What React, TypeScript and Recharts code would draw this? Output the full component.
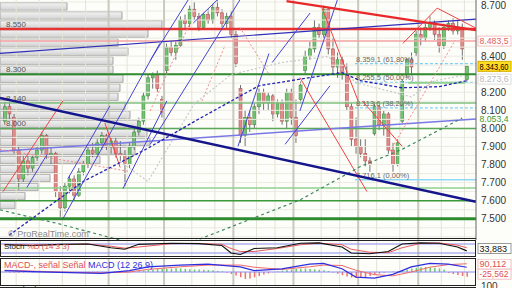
import React from 'react'
import {
  ComposedChart,
  Bar,
  Line,
  XAxis,
  YAxis,
  ReferenceLine,
  ReferenceArea,
  Cell,
} from 'recharts'

// daily candles, oldest first (index = trading day)
const opens = [
  8040, 8120, 8060, 7880, 7720, 7820, 7780, 7840, 7880, 7960,
  7850, 7860, 7650, 7560, 7680, 7720, 7630, 7760, 7800, 7880,
  7860, 7920, 7960, 7900, 7930, 7860, 7850, 7800, 7900, 7980,
  8040, 8180, 8280, 8300, 8160, 8320, 8450, 8420, 8460, 8600,
  8580, 8660, 8620, 8560, 8630, 8600, 8670, 8640, 8580, 8620,
  8520, 8220, 7960, 8060, 8020, 8120, 8200, 8140, 8180, 8080,
  8140, 8040, 8200, 8060, 8160, 8320, 8400, 8440, 8560, 8520,
  8660, 8440, 8340, 8380, 8300, 8120, 7940, 7900, 7860, 7820,
  7970, 8120, 8020, 8080, 7880, 7800, 8040, 8300, 8380, 8420,
  8520, 8500, 8560, 8580, 8520, 8460, 8560, 8580, 8540, 8560,
  8270,
]
const highs = [
  8150, 8160, 8080, 7900, 7850, 7860, 7850, 7900, 7980, 7970,
  7900, 7870, 7680, 7700, 7740, 7740, 7780, 7820, 7900, 7920,
  7940, 7980, 7970, 7950, 7950, 7930, 7880, 7920, 8000, 8060,
  8200, 8300, 8310, 8320, 8180, 8470, 8480, 8480, 8620, 8630,
  8680, 8700, 8640, 8640, 8660, 8690, 8710, 8660, 8640, 8650,
  8540, 8240, 8100, 8100, 8140, 8220, 8220, 8200, 8190, 8160,
  8160, 8220, 8220, 8160, 8260, 8430, 8480, 8600, 8580, 8680,
  8670, 8500, 8420, 8400, 8360, 8140, 8060, 7940, 7940, 7840,
  8150, 8130, 8100, 8090, 7920, 7940, 8270, 8390, 8420, 8540,
  8560, 8580, 8620, 8600, 8560, 8580, 8600, 8610, 8600, 8580,
  8350,
]
const lows = [
  8020, 8050, 7860, 7660, 7700, 7740, 7760, 7820, 7860, 7830,
  7800, 7620, 7510, 7540, 7640, 7600, 7620, 7740, 7780, 7840,
  7840, 7880, 7880, 7860, 7840, 7820, 7680, 7780, 7880, 7960,
  8020, 8160, 8220, 8200, 8060, 8300, 8400, 8380, 8450, 8550,
  8560, 8600, 8540, 8550, 8580, 8580, 8620, 8560, 8550, 8500,
  8340, 7920, 7900, 7980, 8000, 8080, 8100, 8100, 8040, 8060,
  8020, 8000, 8020, 7920, 8140, 8300, 8380, 8420, 8500, 8500,
  8410, 8300, 8280, 8270, 8100, 7900, 7860, 7840, 7790, 7760,
  7960, 7990, 7960, 7860, 7760, 7790, 8030, 8280, 8300, 8400,
  8460, 8480, 8540, 8490, 8420, 8440, 8540, 8520, 8520, 8380,
  8260,
]
const closes = [
  8120, 8080, 7880, 7720, 7820, 7780, 7840, 7880, 7960, 7850,
  7860, 7650, 7560, 7680, 7720, 7630, 7760, 7800, 7880, 7860,
  7920, 7960, 7900, 7930, 7860, 7850, 7800, 7900, 7980, 8040,
  8180, 8280, 8300, 8220, 8090, 8450, 8420, 8460, 8600, 8580,
  8660, 8620, 8560, 8630, 8600, 8670, 8640, 8580, 8620, 8520,
  8360, 7960, 8060, 8020, 8120, 8200, 8140, 8180, 8080, 8140,
  8040, 8200, 8060, 7960, 8240, 8400, 8440, 8560, 8520, 8660,
  8440, 8340, 8380, 8300, 8120, 7940, 7900, 7860, 7820, 7800,
  8120, 8020, 8080, 7880, 7800, 7920, 8260, 8380, 8340, 8520,
  8500, 8560, 8580, 8520, 8460, 8560, 8580, 8540, 8560, 8440,
  8343.6,
]

// volume-by-price profile: bin bottom (bins of 50) and relative volume
const profileBins = [
  8650, 8600, 8550, 8500, 8450, 8400, 8350, 8300, 8250, 8200, 8150, 8100,
  8050, 8000, 7950, 7900, 7850, 7800, 7750, 7700, 7650, 7600, 7550,
]
const profileVol = [
  67, 122, 162, 148, 118, 128, 113, 113, 123, 120, 118, 125,
  130, 138, 147, 150, 135, 100, 55, 50, 38, 25, 15,
]

const priceTicks = [7400, 7500, 7600, 7700, 7800, 7900, 8000, 8100, 8200, 8400, 8600, 8700]
const gridPrices = [
  7400, 7450, 7500, 7550, 7600, 7650, 7700, 7750, 7800, 7850, 7900, 7950, 8000,
  8050, 8100, 8150, 8200, 8250, 8300, 8350, 8400, 8450, 8500, 8550, 8600, 8650, 8700,
]
const weekBreaks = [2.5, 7.5, 12.5, 17.5, 26.5, 30.5, 40.5, 45.5, 54.5, 58.5, 68.5, 72.5, 80.5, 85.5, 94.5, 99.5]
const monthBreaks = [22.5, 34.5, 49.5, 62.5, 76.5, 89.5]

// horizontal support / resistance levels
const redLevel = 8550
const pinkLevel = 8483.5
const greenLevels = [8300, 8140, 8000, 7670, 7600, 7500]
const levelLabels = [
  { y: 8550, text: '8.550' },
  { y: 8300, text: '8.300' },
  { y: 8140, text: '8.140' },
  { y: 8000, text: '8.000' },
]
const fibLevels = [
  { y: 8359.1, text: '8.359,1 (61,80%)' },
  { y: 8255.5, text: '8.255,5 (50,00%)' },
  { y: 8113.6, text: '8.113,6 (38,20%)' },
]
const fibBase = { y: 7716.1, text: '7.716,1 (0,00%)' }
const fibStart = 75.8

// trend lines: [x1, y1, x2, y2] in (day index, price)
const navyLine = [-1, 8169, 102, 7594]
const blueUpper = [-1, 8415, 102, 8605]
const blueLower = [-1, 7873, 102, 8052]
const redTrend = [61, 8705, 102, 8544]
const greenShort = [87.3, 8253, 99.6, 8253]
const blueChannels = [
  [12.6, 7499, 33.6, 8471],
  [4.8, 7672, 9.2, 7856],
  [13.7, 7722, 22.8, 8125],
  [25.6, 7666, 35.1, 8152],
  [31.5, 7912, 50.9, 8711],
  [31.5, 8376, 39.7, 8711],
  [40.8, 8583, 46, 8711],
  [50.5, 7901, 57.2, 8415],
  [57.9, 8365, 66.1, 8639],
  [60.7, 7912, 70.4, 8236],
  [63.9, 8097, 72, 8711],
]
const redThin = [
  [-0.35, 7650, 12.6, 8152],
  [68.7, 8666, 76.5, 8152],
  [77.4, 8152, 86, 7901],
  [63.9, 8281, 78.4, 7650],
  [86.2, 8471, 93.6, 8666],
  [93.6, 8666, 102, 8555],
  [21.7, 8030, 25, 7784],
]
const redDotted = [
  [-1, 7884, 27.1, 7761],
  [31.5, 8097, 40.1, 8583],
  [42.7, 8152, 47.7, 8460],
  [50.9, 8560, 57.4, 8292],
  [83.4, 7873, 97.5, 8488],
]

// moving averages (sampled)
const maBlueIdx = [1, 17, 31, 42, 55, 66, 73, 77, 86, 94, 100]
const maBlue = [7409, 7706, 7890, 8052, 8236, 8281, 8309, 8264, 8225, 8231, 8264]
const maGreenLeftIdx = [-1, 12, 25]
const maGreenLeft = [7549, 7470, 7381]
const maGreenRightIdx = [41, 64, 77, 86, 99]
const maGreenRight = [7375, 7605, 7789, 7884, 8057]
const maGreyIdx = [25, 31, 41, 49, 60, 70, 76, 88, 93, 99]
const maGrey = [7817, 7706, 8135, 8298, 8365, 8398, 8253, 8175, 8264, 8292]

// stochastic
const stochIdx = [0, 6, 12, 18, 23, 26, 29, 36, 42, 47, 49, 51, 54, 59, 64, 68, 73, 75, 79, 83, 86, 90, 94, 98, 100]
const stochK = [75, 70, 78, 80, 55, 45, 78, 85, 82, 70, 20, 10, 50, 55, 85, 88, 60, 20, 15, 30, 80, 88, 85, 60, 34]
const stochD = [78, 72, 75, 80, 65, 52, 60, 82, 84, 78, 50, 30, 30, 50, 75, 86, 75, 45, 25, 22, 55, 84, 87, 72, 55]

// MACD
const macdIdx = [0, 6, 12, 21, 27, 31, 38, 44, 51, 54, 60, 66, 69, 73, 76, 80, 84, 88, 92, 96, 100]
const macdLine = [16, 5, -5, -16, 16, 59, 80, 90, 59, 16, 37, 90, 100, 37, -59, -70, -27, 59, 100, 90, 55]
const signalLine = [20, 10, 0, -10, 0, 30, 60, 80, 80, 55, 30, 60, 80, 75, 20, -30, -45, 0, 55, 85, 95]
const macdHist = [
  -4, -6, -8, -8, -6, -4, -3, -2, 0, 2, 0, -3,
  -6, -8, -6, -4, -2, 0, 2, 3, 4, 3, 2, 0, -2, -3, -2, 0,
  6, 10, 16, 22, 28, 34, 36, 38, 40, 42, 40, 36, 32, 30, 28, 26, 24, 20, 14, 8,
  -10, -24, -40, -60, -80, -76, -62, -46, -30, -16, -4,
  8, 16, 24, 30, 34, 38, 40, 36, 32, 26, 20, 12,
  -6, -20, -36, -52, -64, -70, -66, -58, -46, -32,
  -18, -8, 0, 6, 12, 20,
  30, 40, 48, 54, 58, 56, 50, 42, 30,
  -10, -24, -36, -46, -54,
]

const FONT = '"Liberation Sans", Arial, sans-serif'
const X_DOMAIN: [number, number] = [-1, 102]
const P_DOMAIN: [number, number] = [7382, 8711]

function fmt(v: number, decimals = 0) {
  const [int, dec] = v.toFixed(decimals).split('.')
  const grouped = int.replace(/\B(?=(\d{3})+(?!\d))/g, '.')
  return dec ? `${grouped},${dec}` : grouped
}

const candles = closes.map((c, k) => ({
  i: k,
  open: opens[k],
  high: highs[k],
  low: lows[k],
  close: c,
  range: [lows[k], highs[k]],
}))

const series = (idx: number[], vals: number[]) => idx.map((i, k) => ({ i, v: vals[k] }))

function Candle(props: any) {
  const { x, y, width, height, payload } = props
  if (x == null || payload == null) return null
  const top = Math.min(y, y + height)
  const bot = Math.max(y, y + height)
  const { open, close, high, low } = payload
  const toPx = (v: number) => top + ((high - v) / (high - low)) * (bot - top)
  const cx = x + width / 2
  const up = close >= open
  const yo = toPx(open)
  const yc = toPx(close)
  return (
    <g>
      <line x1={cx} x2={cx} y1={top} y2={bot} stroke="#707070" strokeWidth={1} />
      <rect
        x={cx - 1.5}
        y={Math.min(yo, yc)}
        width={3}
        height={Math.max(1, Math.abs(yc - yo))}
        fill={up ? '#74c374' : '#e38a8a'}
        stroke={up ? '#3f8f3f' : '#b05858'}
        strokeWidth={0.6}
      />
    </g>
  )
}

// price tag drawn just right of the plot area
const boxLabel = (text: string, color: string, bg: string, border: string, size = 9) => (p: any) => {
  const vb = p.viewBox
  const x = vb.x + vb.width + 2
  const long = text.length > 6
  return (
    <g>
      <rect x={x} y={vb.y - 5} width={33} height={10} fill={bg} stroke={border} strokeWidth={1} />
      <text
        x={x + 1.5}
        y={vb.y + 3.2}
        fontSize={size}
        fill={color}
        fontFamily={FONT}
        textLength={long ? 29 : undefined}
        lengthAdjust="spacingAndGlyphs"
      >
        {text}
      </text>
    </g>
  )
}

const leftLabel = (text: string) => (p: any) => (
  <text x={p.viewBox.x + 6} y={p.viewBox.y - 2} fontSize={8} fill="#555" fontFamily={FONT}>
    {text}
  </text>
)

const fibLabel = (text: string) => (p: any) => (
  <text x={p.viewBox.x + 1} y={p.viewBox.y - 2} fontSize={7.5} fill="#666" fontFamily={FONT}>
    {text}
  </text>
)

function seg(s: number[], stroke: string, width: number, dash?: string, key?: string) {
  return (
    <ReferenceLine
      key={key}
      segment={[
        { x: s[0], y: s[1] },
        { x: s[2], y: s[3] },
      ]}
      stroke={stroke}
      strokeWidth={width}
      strokeDasharray={dash}
      ifOverflow="hidden"
    />
  )
}

function MainChart() {
  const last = closes[closes.length - 1]
  return (
    <ComposedChart width={512} height={240} data={candles} margin={{ top: 0, right: 0, bottom: 0, left: 0 }}>
      <defs>
        <linearGradient id="prof" x1="0" y1="0" x2="0" y2="1">
          <stop offset="0%" stopColor="#f4f4f4" />
          <stop offset="100%" stopColor="#d2d2d2" />
        </linearGradient>
      </defs>
      <XAxis type="number" dataKey="i" domain={X_DOMAIN} hide allowDataOverflow />
      <YAxis
        orientation="right"
        width={36}
        domain={P_DOMAIN}
        ticks={priceTicks}
        allowDataOverflow
        tickFormatter={(v) => fmt(v)}
        tick={{ fontSize: 10, fill: '#333', fontFamily: FONT }}
        tickLine={false}
        tickSize={3}
        axisLine={{ stroke: '#666' }}
      />
      {gridPrices.map((p) => (
        <ReferenceLine key={`gp${p}`} y={p} stroke="#ebebe2" strokeWidth={1} />
      ))}
      {weekBreaks.map((w) => (
        <ReferenceLine key={`wk${w}`} x={w} stroke="#e4e4d8" strokeWidth={1} />
      ))}
      {monthBreaks.map((m) => (
        <ReferenceLine key={`mo${m}`} x={m} stroke="#c9c9bd" strokeWidth={2} />
      ))}
      {profileBins.map((b, k) => (
        <ReferenceArea
          key={`pf${b}`}
          x1={-1}
          x2={-1 + (profileVol[k] * 103) / 476}
          y1={b + 4}
          y2={b + 46}
          fill="url(#prof)"
          fillOpacity={1}
          stroke="#a4a4a4"
          strokeWidth={1}
          ifOverflow="hidden"
        />
      ))}
      <Bar dataKey="range" barSize={3} isAnimationActive={false} shape={(p: any) => <Candle {...p} />} />
      <ReferenceLine y={greenLevels[5]} stroke="#2e8b2e" strokeWidth={3} />
      <ReferenceLine y={greenLevels[4]} stroke="#3a9a3a" strokeWidth={1.5} />
      <ReferenceLine y={greenLevels[3]} stroke="#8fd08f" strokeWidth={1.5} />
      <ReferenceLine y={greenLevels[2]} stroke="#5aa85a" strokeWidth={1.5} />
      <ReferenceLine y={greenLevels[1]} stroke="#7fc07f" strokeWidth={1.5} />
      <ReferenceLine y={greenLevels[0]} stroke="#2e8b2e" strokeWidth={2} />
      <ReferenceLine y={pinkLevel} stroke="#f2a2a2" strokeWidth={1.5} />
      <ReferenceLine y={redLevel} stroke="#e63434" strokeWidth={2.5} />
      {levelLabels.map((l) => (
        <ReferenceLine key={`ll${l.y}`} y={l.y} stroke="none" label={leftLabel(l.text)} />
      ))}
      {fibLevels.map((f) => (
        <ReferenceLine
          key={`fib${f.y}`}
          segment={[
            { x: fibStart, y: f.y },
            { x: 102, y: f.y },
          ]}
          stroke="#7fd0f5"
          strokeWidth={1.2}
          strokeDasharray="3 2"
          label={fibLabel(f.text)}
        />
      ))}
      <ReferenceLine
        segment={[
          { x: fibStart, y: fibBase.y },
          { x: 102, y: fibBase.y },
        ]}
        stroke="#8fd8f8"
        strokeWidth={1.5}
        label={fibLabel(fibBase.text)}
      />
      {seg(greenShort, '#92d092', 2)}
      {seg(blueLower, '#7878e6', 1.5)}
      {seg(blueUpper, '#3030b8', 1.2)}
      {blueChannels.map((s, k) => seg(s, '#4444d4', 1, undefined, `bc${k}`))}
      {redThin.map((s, k) => seg(s, '#f04040', 1, undefined, `rt${k}`))}
      {redDotted.map((s, k) => seg(s, '#f08c8c', 1, '2 2', `rd${k}`))}
      <Line data={series(maGreyIdx, maGrey)} dataKey="v" stroke="#c8c8c8" strokeWidth={1.2} strokeDasharray="2 2" dot={false} isAnimationActive={false} />
      <Line data={series(maGreenLeftIdx, maGreenLeft)} dataKey="v" stroke="#3b8a5a" strokeWidth={1.2} strokeDasharray="3 3" dot={false} isAnimationActive={false} />
      <Line data={series(maGreenRightIdx, maGreenRight)} dataKey="v" stroke="#3b8a5a" strokeWidth={1.2} strokeDasharray="3 3" dot={false} isAnimationActive={false} />
      <Line data={series(maBlueIdx, maBlue)} dataKey="v" stroke="#2424b4" strokeWidth={1.3} strokeDasharray="3 2" dot={false} isAnimationActive={false} />
      {seg(redTrend, '#e82828', 2.2)}
      {seg(navyLine, '#16168c', 2.5)}
      <ReferenceLine y={pinkLevel} stroke="none" label={boxLabel(fmt(pinkLevel, 1), '#e06060', '#fff', '#f4c4c4')} />
      <ReferenceLine y={last} stroke="none" label={boxLabel(fmt(last, 2), '#000', '#ffdd22', '#d4b000')} />
      <ReferenceLine y={8273} stroke="none" label={boxLabel('8.273,6', '#b8b8b8', '#fff', '#dddddd')} />
      <ReferenceLine y={8053.4} stroke="none" label={boxLabel(fmt(8053.4, 1), '#3a9a3a', 'none', 'none', 8.5)} />
    </ComposedChart>
  )
}

function StochChart() {
  return (
    <ComposedChart width={512} height={15} data={series(stochIdx, stochK)} margin={{ top: 0, right: 36, bottom: 0, left: 0 }}>
      <XAxis type="number" dataKey="i" domain={X_DOMAIN} hide allowDataOverflow />
      <YAxis domain={[0, 100]} hide allowDataOverflow />
      {weekBreaks.map((w) => (
        <ReferenceLine key={`wk${w}`} x={w} stroke="#e4e4d8" />
      ))}
      {monthBreaks.map((m) => (
        <ReferenceLine key={`mo${m}`} x={m} stroke="#c9c9bd" strokeWidth={2} />
      ))}
      <ReferenceLine y={80} stroke="#8c8cf0" />
      <ReferenceLine y={20} stroke="#8c8cf0" />
      <Line data={series(stochIdx, stochD)} dataKey="v" stroke="#e85a5a" strokeWidth={1} dot={false} isAnimationActive={false} />
      <Line dataKey="v" stroke="#111" strokeWidth={1.2} dot={false} isAnimationActive={false} />
      <ReferenceLine y={50} stroke="none" ifOverflow="visible" label={boxLabel('33,883', '#111', '#fff', '#999')} />
    </ComposedChart>
  )
}

function MacdChart() {
  const hist = macdHist.map((h, k) => ({ i: k, h }))
  return (
    <ComposedChart width={512} height={26} data={hist} margin={{ top: 0, right: 36, bottom: 0, left: 0 }}>
      <XAxis type="number" dataKey="i" domain={X_DOMAIN} hide allowDataOverflow />
      <YAxis domain={[-150, 150]} hide allowDataOverflow />
      {weekBreaks.map((w) => (
        <ReferenceLine key={`wk${w}`} x={w} stroke="#e4e4d8" />
      ))}
      {monthBreaks.map((m) => (
        <ReferenceLine key={`mo${m}`} x={m} stroke="#c9c9bd" strokeWidth={2} />
      ))}
      <ReferenceLine y={0} stroke="#8c8cf0" />
      <Bar dataKey="h" barSize={1.5} isAnimationActive={false}>
        {hist.map((d) => (
          <Cell key={d.i} fill={d.h >= 0 ? '#66cc66' : '#f07070'} />
        ))}
      </Bar>
      <Line data={series(macdIdx, signalLine)} dataKey="v" stroke="#f06a6a" strokeWidth={1} dot={false} isAnimationActive={false} />
      <Line data={series(macdIdx, macdLine)} dataKey="v" stroke="#2d2de0" strokeWidth={1.2} dot={false} isAnimationActive={false} />
      <ReferenceLine y={90.112} stroke="none" label={boxLabel('90,112', '#e05050', '#fff', '#f0c0c0')} />
      <ReferenceLine y={-25.562} stroke="none" label={boxLabel('-25,562', '#e05050', '#fff', '#f0c0c0')} />
    </ComposedChart>
  )
}

const panel = (top: number, height: number): React.CSSProperties => ({
  position: 'absolute',
  left: 0,
  top,
  width: 476,
  height,
  boxSizing: 'border-box',
  border: '1.5px solid #222',
  pointerEvents: 'none',
})

export default function App() {
  return (
    <div
      style={{
        position: 'fixed',
        left: 0,
        top: 0,
        width: 512,
        height: 288,
        background: '#fdfdf9',
        overflow: 'hidden',
        fontFamily: FONT,
      }}
    >
      <div style={{ position: 'absolute', left: 0, top: 0 }}>
        <MainChart />
      </div>
      <div style={{ position: 'absolute', left: 8, top: 229, fontSize: 9, color: '#8a8a8a' }}>© ProRealTime.com</div>
      <div style={{ position: 'absolute', left: 0, top: 238, width: 476, borderTop: '1.5px solid #222' }} />
      <div style={{ position: 'absolute', left: 0, top: 241 }}>
        <StochChart />
      </div>
      <div style={panel(240, 17)} />
      <div style={{ position: 'absolute', left: 4, top: 242, fontSize: 8, whiteSpace: 'nowrap' }}>
        <span style={{ color: '#222' }}>Stoch </span>
        <span style={{ color: '#e05050' }}>%D (14 3 3)</span>
      </div>
      <div style={{ position: 'absolute', left: 0, top: 259 }}>
        <MacdChart />
      </div>
      <div style={panel(258, 28)} />
      <div style={{ position: 'absolute', left: 4, top: 260, fontSize: 9, whiteSpace: 'nowrap' }}>
        <span style={{ color: '#e05050' }}>MACD-, señal Señal </span>
        <span style={{ color: '#2d2de0' }}>MACD (12 26 9)</span>
      </div>
      <div style={{ position: 'absolute', left: 0, top: 287, width: 476, borderTop: '1.5px solid #222' }} />
      <div style={{ position: 'absolute', left: 4, top: 285, fontSize: 9, color: '#222' }}>RSI (14)</div>
      <div style={{ position: 'absolute', left: 481, top: 281, fontSize: 10, color: '#333' }}>100</div>
    </div>
  )
}
